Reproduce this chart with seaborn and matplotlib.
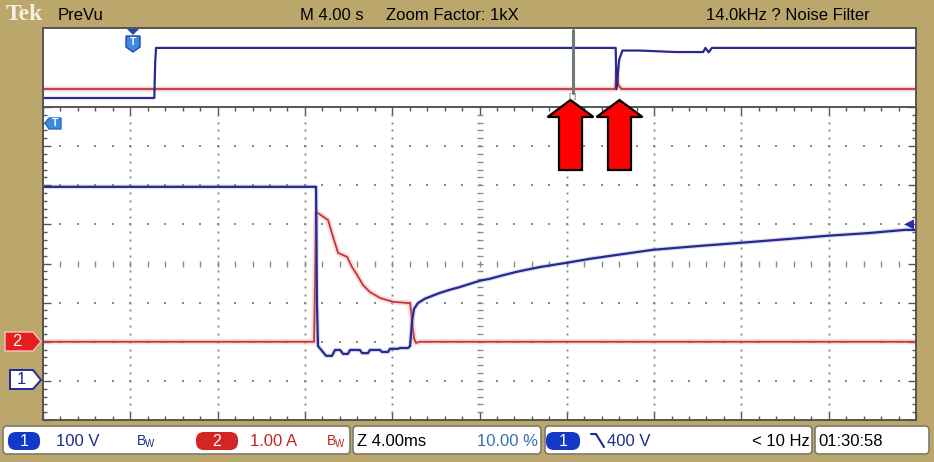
import numpy as np
import pandas as pd
import matplotlib
matplotlib.use("Agg")
import matplotlib.pyplot as plt
from matplotlib.patches import Polygon, FancyBboxPatch
from matplotlib.transforms import Affine2D
import seaborn as sns

# ---------------- data ----------------
# zoomed window: time in ms (4 ms/div, 10 div)
ch1_time_ms = [0.0, 12.37, 12.51, 12.55, 12.60, 12.78, 12.97, 13.24, 13.38, 13.61,
               13.75, 13.97, 14.07, 14.52, 14.62, 14.89, 14.98, 15.44, 15.53, 15.81,
               15.90, 16.27, 16.36, 16.72, 16.82, 16.91, 17.00, 17.18, 17.50, 17.82,
               18.19, 18.65, 19.11, 19.56, 20.02, 20.48, 20.94, 21.72, 22.77, 24.01,
               25.06, 26.30, 27.95, 30.10, 31.98, 34.23, 35.97, 37.89, 39.50, 40.0]
ch1_volts = [496, 496, 496, 204, 89, 77, 64, 64, 79, 79,
             69, 69, 79, 79, 71, 71, 79, 79, 74, 74,
             82, 82, 84, 84, 89, 153, 184, 199, 210, 217,
             225, 233, 240, 248, 256, 261, 268, 279, 291, 302,
             312, 322, 335, 345, 353, 363, 371, 378, 386, 386]

ch2_time_ms = [0.0, 12.42, 12.51, 12.60, 13.06, 13.29, 13.52, 13.93, 14.16, 14.39,
               14.66, 14.98, 15.44, 16.04, 16.72, 16.82, 16.91, 17.00, 17.09, 17.27, 40.0]
ch2_amps = [0.0, 0.0, 3.29, 3.29, 3.11, 2.68, 2.27, 2.17, 1.91, 1.71,
            1.45, 1.27, 1.12, 1.02, 0.99, 0.99, 0.55, 0.09, -0.03, 0.0, 0.0]

# overview (PreVu) strip: time in s (4 s/div)
strip_ch1_time_s = [0, 5.10, 5.14, 5.18, 26.24, 26.28, 26.40, 26.55, 27.30, 29.00,
                    30.25, 30.35, 30.50, 30.65, 40]
strip_ch1_volts = [0, 0, 350, 496, 496, 88, 380, 470, 470, 455,
                   455, 496, 452, 496, 496]
strip_ch2_time_s = [0, 26.22, 26.28, 26.36, 26.50, 40]
strip_ch2_amps = [0, 0, 1.8, 0.4, 0, 0]
zoom_marker_s = 24.27

header_labels = ["PreVu", "M 4.00 s", "Zoom Factor: 1kX", "14.0kHz ? Noise Filter"]
status_labels = ["100 V", "1.00 A", "Z 4.00ms", "10.00 %", "400 V", "< 10 Hz", "01:30:58"]

# scope settings
CH1_VDIV, CH1_POS = 100.0, -3.0   # 100 V/div, ground 3 div below centre
CH2_ADIV, CH2_POS = 1.0, -2.0     # 1 A/div, zero 2 div below centre
TRIG_LEVEL_V = 400

# ---------------- style ----------------
TAN = "#bba66c"
BLUE = "#27298e"
RED = "#c0373a"
GRIDC = "#8a8a8a"
FRAME = "#555555"

sns.set_style("white")
plt.rcParams["font.family"] = ["Liberation Sans Narrow", "Liberation Sans", "DejaVu Sans"]

W, H = 934, 462
fig = plt.figure(figsize=(W / 100, H / 100), dpi=100, facecolor=TAN)
PX = Affine2D().scale(1, -1).translate(0, H).scale(1 / 100) + fig.dpi_scale_trans


def ax_rect(x0, y0, x1, y1):
    return [x0 / W, 1 - y1 / H, (x1 - x0) / W, (y1 - y0) / H]


# ---------------- overview strip ----------------
strip = fig.add_axes(ax_rect(43, 28, 916, 107))
strip.set_facecolor("white")
S_PXDIV = 10.1
s_lo, s_hi = (98 - 107) / S_PXDIV, (98 - 28) / S_PXDIV
red_off = (98 - 89) / S_PXDIV
dfs1 = pd.DataFrame({"t": strip_ch1_time_s, "y": np.array(strip_ch1_volts) / CH1_VDIV})
dfs2 = pd.DataFrame({"t": strip_ch2_time_s, "y": np.array(strip_ch2_amps) / CH2_ADIV + red_off})
sns.lineplot(data=dfs2, x="t", y="y", ax=strip, color="#f2a0a0", lw=3.5, alpha=0.5,
             estimator=None, sort=False, errorbar=None)
sns.lineplot(data=dfs2, x="t", y="y", ax=strip, color=RED, lw=1.3,
             estimator=None, sort=False, errorbar=None)
sns.lineplot(data=dfs1, x="t", y="y", ax=strip, color=BLUE, lw=1.6,
             estimator=None, sort=False, errorbar=None)
strip.plot([zoom_marker_s, zoom_marker_s], [(98 - 30) / S_PXDIV, (98 - 93) / S_PXDIV],
           color="#6f7a74", lw=2.2, zorder=5)
strip.set_xlim(0, 40)
strip.set_ylim(s_lo, s_hi)
strip.set_xticks([]); strip.set_yticks([])
strip.set_xlabel(""); strip.set_ylabel("")
for side in ["left", "top", "right"]:
    strip.spines[side].set_color(FRAME)
    strip.spines[side].set_linewidth(1.4)
strip.spines["bottom"].set_visible(False)

# ---------------- main graticule ----------------
main = fig.add_axes(ax_rect(43, 107, 916, 420))
main.set_facecolor("white")
main.set_xlim(0, 40)
main.set_ylim(-4, 4)

# dotted graticule
ys = np.arange(-4, 4.001, 0.2)
xs = np.arange(0, 40.001, 0.8)
for xv in range(4, 40, 4):
    if xv == 20:
        main.plot([xv] * len(ys), ys, ls="none", marker="_", ms=5, mew=1, color=GRIDC, zorder=1)
    else:
        main.plot([xv] * len(ys), ys, ls="none", marker="s", ms=1.4, mew=0, color=GRIDC, zorder=1)
for yv in range(-3, 4):
    if yv == 0:
        main.plot(xs, [yv] * len(xs), ls="none", marker="|", ms=5, mew=1, color=GRIDC, zorder=1)
    else:
        main.plot(xs, [yv] * len(xs), ls="none", marker="s", ms=1.6, mew=0, color=GRIDC, zorder=1)

df1 = pd.DataFrame({"t": ch1_time_ms, "y": np.array(ch1_volts) / CH1_VDIV + CH1_POS})
df2 = pd.DataFrame({"t": ch2_time_ms, "y": np.array(ch2_amps) / CH2_ADIV + CH2_POS})
sns.lineplot(data=df2, x="t", y="y", ax=main, color="#f4b0b0", lw=4, alpha=0.45,
             estimator=None, sort=False, errorbar=None)
sns.lineplot(data=df2, x="t", y="y", ax=main, color=RED, lw=1.3,
             estimator=None, sort=False, errorbar=None)
sns.lineplot(data=df1, x="t", y="y", ax=main, color="#9aa0e0", lw=3.2, alpha=0.35,
             estimator=None, sort=False, errorbar=None)
sns.lineplot(data=df1, x="t", y="y", ax=main, color=BLUE, lw=1.6,
             estimator=None, sort=False, errorbar=None)
main.set_xlim(0, 40)
main.set_ylim(-4, 4)
main.set_xlabel(""); main.set_ylabel("")
main.set_xticks(np.arange(0, 40.01, 4))
main.set_xticks(xs, minor=True)
main.set_yticks(np.arange(-4, 4.01, 1))
main.set_yticks(ys, minor=True)
main.tick_params(which="both", direction="in", top=True, right=True, bottom=True, left=True,
                 labelbottom=False, labelleft=False, color=FRAME, width=1)
main.tick_params(which="major", length=5.5)
main.tick_params(which="minor", length=2.8)
for side in main.spines:
    main.spines[side].set_color(FRAME)
    main.spines[side].set_linewidth(1.4)

# trigger level marker (right)
ty = 263.5 - (TRIG_LEVEL_V / CH1_VDIV + CH1_POS) * 39.1
fig.patches.append(Polygon([(904, ty), (914, ty - 5), (914, ty + 5)], closed=True,
                           transform=PX, facecolor="#1f2fb0", edgecolor="none", zorder=10))

# ---------------- figure decorations (pixel coords, y down) ----------------
def poly(pts, fc, ec="none", lw=1.0, z=10):
    p = Polygon(pts, closed=True, transform=PX, facecolor=fc, edgecolor=ec, lw=lw, zorder=z)
    fig.patches.append(p)


def txt(x, y, s, size=11, color="black", ha="left", **kw):
    fig.text(x, y, s, transform=PX, fontsize=size, color=color, ha=ha, va="center", zorder=20, **kw)


# header
txt(6, 14, "Tek", size=17, color="#f6f0dc", family=["Liberation Serif", "DejaVu Serif"], weight="bold")
txt(58, 15, header_labels[0], size=12)
txt(300, 15, header_labels[1], size=12)
txt(386, 15, header_labels[2], size=12)
txt(706, 15, header_labels[3], size=12)

# strip trigger-position marker
poly([(127, 29), (139, 29), (133, 35)], "#2545a8", z=12)
poly([(126, 36), (140, 36), (140, 47), (133, 52), (126, 47)], "#3d8be0", ec="#2545a8", z=12)
txt(133, 42, "T", size=7.5, color="white", ha="center", weight="bold")
txt(573, 97, "[ ]", size=6, color="#666666", ha="center")

# main trigger-position marker
poly([(45, 123), (49, 118), (61, 118), (61, 129), (49, 129)], "#3d8be0", ec="#2b6cc0", z=12)
txt(55, 123.5, "T", size=7.5, color="white", ha="center", weight="bold")

# channel ground markers
poly([(5, 332), (33, 332), (41, 341.7), (33, 351), (5, 351)], "#e61e1e", ec="#ffc0c0", lw=1, z=12)
txt(17, 341.5, "2", size=12, color="white", ha="center")
poly([(10, 370), (33, 370), (41, 380), (33, 389), (10, 389)], "white", ec="#1c2a9a", lw=1.4, z=12)
txt(21, 379.5, "1", size=12, color="#1c2a9a", ha="center")

# red arrows
for cx in (570.5, 619.5):
    poly([(cx, 100), (cx + 23, 117), (cx + 11.5, 117), (cx + 11.5, 170),
          (cx - 11.5, 170), (cx - 11.5, 117), (cx - 23, 117)], "#ff0000", ec="black", lw=1.6, z=15)

# status bar boxes
for x0, x1 in [(3, 350), (353, 541), (545, 812), (815, 929)]:
    b = FancyBboxPatch((x0, 426), x1 - x0, 28, boxstyle="round,pad=0,rounding_size=4",
                       transform=PX, facecolor="white", edgecolor="#7d7a6e", lw=1.2, zorder=9)
    fig.patches.append(b)

for (x0, x1, fc, lab) in [(8, 40, "#1238c8", "1"), (196, 238, "#d42424", "2"), (546, 580, "#1238c8", "1")]:
    b = FancyBboxPatch((x0, 432), x1 - x0, 18, boxstyle="round,pad=0,rounding_size=8",
                       transform=PX, facecolor=fc, edgecolor="none", zorder=10)
    fig.patches.append(b)
    txt((x0 + x1) / 2, 441, lab, size=11.5, color="white", ha="center")

txt(56, 441, status_labels[0], size=12, color="#1c2c8c")
txt(137, 441, "B", size=10, color="#1c2c8c")
txt(145, 444, "W", size=7, color="#1c2c8c")
txt(250, 441, status_labels[1], size=12, color="#c42424")
txt(327, 441, "B", size=10, color="#c42424")
txt(335, 444, "W", size=7, color="#c42424")
txt(357, 441, status_labels[2], size=12, color="black")
txt(477, 441, status_labels[3], size=12, color="#3c6eaa")
edge = plt.Line2D([591, 596, 604], [434, 434, 447], transform=PX, color="#1c2c8c", lw=1.5)
edge.set_zorder(20)
fig.lines.append(edge)
txt(607, 441, status_labels[4], size=12, color="#1c2c8c")
txt(752, 441, status_labels[5], size=12, color="black")
txt(818, 441, status_labels[6], size=12, color="black")

fig.savefig("out.png", dpi=100, facecolor=TAN)
